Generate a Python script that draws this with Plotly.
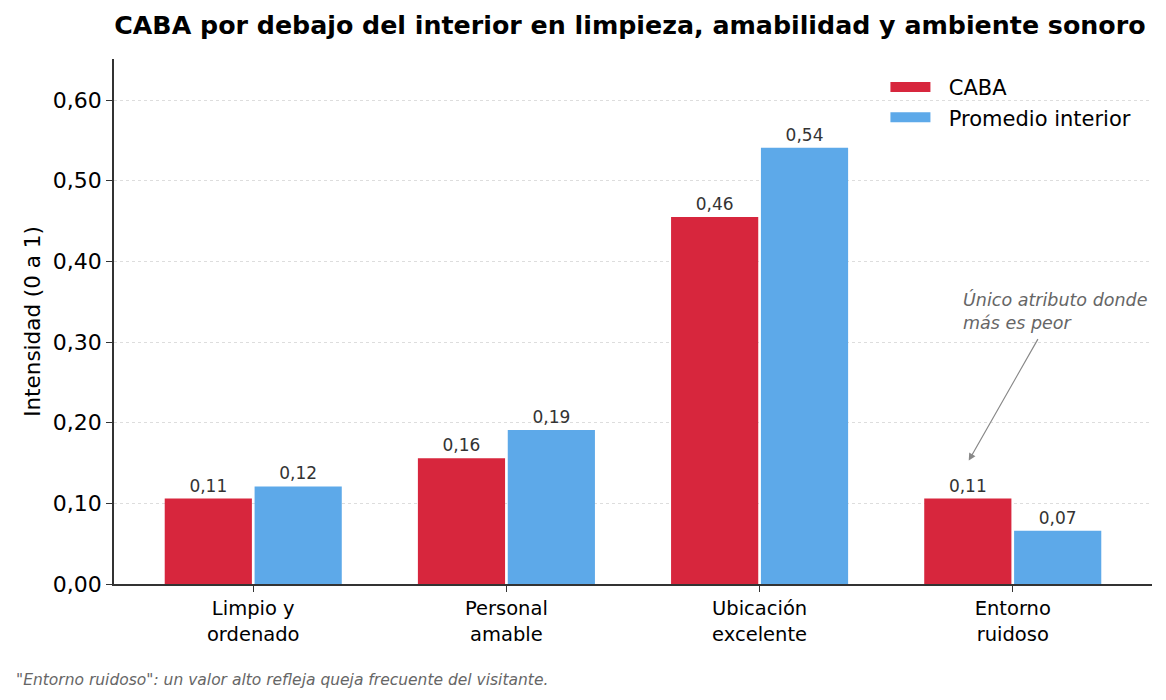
import plotly.graph_objects as go

# ---- DATA ---- #
categories = ["Limpio y<br>ordenado", "Personal<br>amable", "Ubicación<br>excelente", "Entorno<br>ruidoso"]
caba = [0.106, 0.156, 0.455, 0.106]
interior = [0.121, 0.191, 0.541, 0.066]
y_ticks = [0.0, 0.1, 0.2, 0.3, 0.4, 0.5, 0.6]

RED = "#D7263D"
BLUE = "#5DA9E9"
FONT = "DejaVu Sans"

fig = go.Figure()

fig.add_trace(go.Bar(
    x=categories, y=caba, name="CABA", showlegend=False,
    marker=dict(color=RED, line=dict(width=0)),
    text=caba, texttemplate="%{text:.2f}", textposition="outside",
    textfont=dict(size=17, color="#333333"), cliponaxis=False,
))
fig.add_trace(go.Bar(
    x=categories, y=interior, name="Promedio interior", showlegend=False,
    marker=dict(color=BLUE, line=dict(width=0)),
    text=interior, texttemplate="%{text:.2f}", textposition="outside",
    textfont=dict(size=17, color="#333333"), cliponaxis=False,
))

# legend entries drawn as wide patches
for name, color in [("CABA", RED), ("Promedio interior", BLUE)]:
    fig.add_trace(go.Scatter(
        x=[None], y=[None], mode="lines", name="&nbsp;&nbsp;" + name,
        line=dict(color=color, width=12),
    ))

# annotation: text + arrow
fig.add_annotation(
    x=categories[3], y=0.368, xref="x", yref="y",
    xshift=-52, text="<i>Único atributo donde<br>más es peor</i>",
    showarrow=False, xanchor="left", yanchor="top", align="left",
    font=dict(family=FONT, size=17.5, color="#666666"),
)
fig.add_annotation(
    x=categories[3], y=0.153, xref="x", yref="y", xshift=-44,
    text="", showarrow=True, arrowhead=2, arrowsize=1.2, arrowwidth=1.2,
    arrowcolor="#888888", ax=70, ay=-123,
)

# footnote
fig.add_annotation(
    x=0, y=0, xref="paper", yref="paper", xshift=-100, yshift=-96,
    xanchor="left", yanchor="middle", showarrow=False,
    text="<i>\"Entorno ruidoso\": un valor alto refleja queja frecuente del visitante.</i>",
    font=dict(family=FONT, size=15.5, color="#666666"),
)

fig.update_layout(
    title=dict(
        text="<b>CABA por debajo del interior en limpieza, amabilidad y ambiente sonoro</b>",
        x=0.497, xref="paper", y=0.976, yanchor="middle",
        font=dict(family=FONT, size=25.3, color="#000000"),
    ),
    width=1166, height=700,
    margin=dict(l=106, r=22, t=51, b=124),
    plot_bgcolor="white", paper_bgcolor="white",
    font=dict(family=FONT, size=20, color="#000000"),
    separators=",.",
    barmode="group", bargap=0.29, bargroupgap=0.03,
    showlegend=True,
    legend=dict(
        x=0.985, y=0.985, xanchor="right", yanchor="top",
        bgcolor="rgba(0,0,0,0)", font=dict(size=21),
        tracegroupgap=0, itemwidth=40,
    ),
    xaxis=dict(
        range=[-0.55, 3.55], showline=True, linecolor="#333333", linewidth=1.5,
        ticks="outside", ticklen=6, tickcolor="#333333",
        tickfont=dict(size=19.5), showgrid=False,
    ),
    yaxis=dict(
        range=[0, 0.651], tickvals=y_ticks, tickformat=".2f",
        showline=True, linecolor="#333333", linewidth=1.5,
        ticks="outside", ticklen=6, tickcolor="#333333",
        tickfont=dict(size=22),
        showgrid=True, gridcolor="#DDDDDD", griddash="dot", gridwidth=1,
        zeroline=False,
        title=dict(text="Intensidad (0 a 1)", font=dict(size=21.5), standoff=6),
    ),
)

fig.write_html("out.html")
